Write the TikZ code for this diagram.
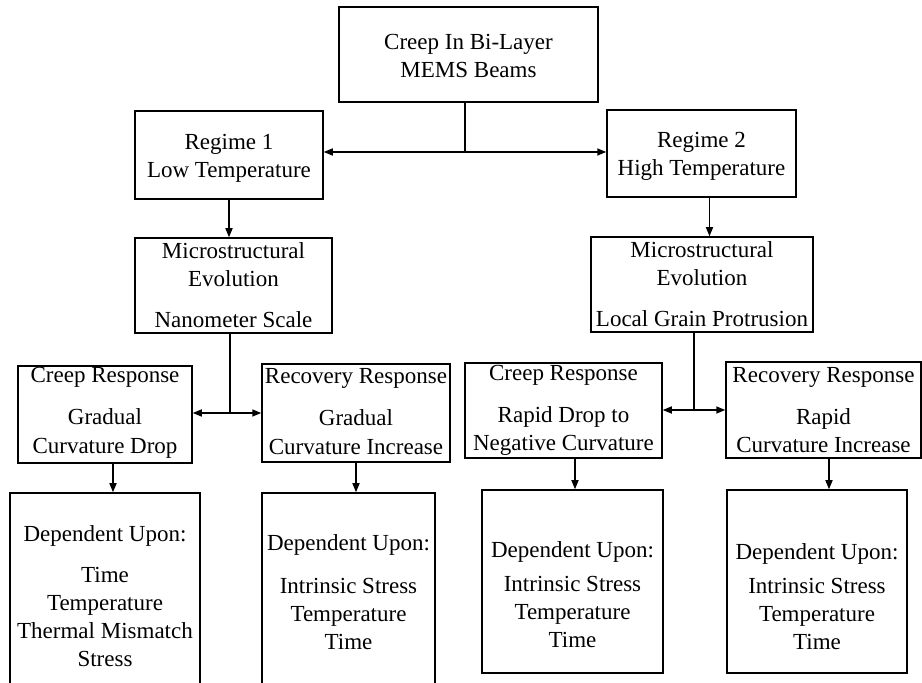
\documentclass[tikz,border=0pt]{standalone}
\usepackage{fontspec}
\setmainfont{Liberation Serif}
\usetikzlibrary{arrows.meta}

\begin{document}
\begin{tikzpicture}[x=0.5pt,y=0.5pt,yscale=-1,xscale=1,
    box/.style={draw, line width=0.75pt, inner sep=0pt},
    lbl/.style={align=center, inner sep=0pt, font=\fontsize{11.5}{14}\selectfont},
    >={Triangle[length=4.5pt,width=3.5pt]}, line width=0.75pt]
    \path[use as bounding box, clip] (0,0) rectangle (922,683); %diagram is 922 by 683

    %Shape: Rectangle
    \node[box, minimum width=129.5pt, minimum height=47.5pt] (top) at (468.5,54.5) {};
    %Shape: Rectangle
    \node[box, minimum width=94pt, minimum height=44pt] (reg1) at (229,155) {};
    %Shape: Rectangle
    \node[box, minimum width=94.5pt, minimum height=43.5pt] (reg2) at (701.5,153.5) {};
    %Shape: Rectangle
    \node[box, minimum width=98.5pt, minimum height=47.5pt] (mic1) at (233.5,285.5) {};
    %Shape: Rectangle
    \node[box, minimum width=111pt, minimum height=47.5pt] (mic2) at (702,284.5) {};
    %Shape: Rectangle
    \node[box, minimum width=87pt, minimum height=48.5pt] (cr1) at (105,414.5) {};
    %Shape: Rectangle
    \node[box, minimum width=94pt, minimum height=49pt] (rc1) at (356,413) {};
    %Shape: Rectangle
    \node[box, minimum width=98.5pt, minimum height=47.5pt] (cr2) at (563.5,410.5) {};
    %Shape: Rectangle
    \node[box, minimum width=97.5pt, minimum height=48pt] (rc2) at (823.5,410) {};
    %Shape: Rectangle
    \node[box, minimum width=95pt, minimum height=101pt] (dep1) at (105,594) {};
    %Shape: Rectangle
    \node[box, minimum width=86.5pt, minimum height=97.5pt] (dep2) at (348.5,590.5) {};
    %Shape: Rectangle
    \node[box, minimum width=90.5pt, minimum height=91.5pt] (dep3) at (572.5,581.5) {};
    %Shape: Rectangle
    \node[box, minimum width=90pt, minimum height=91.5pt] (dep4) at (817,581.5) {};

    %Straight Lines
    \coordinate (j0) at (465,152);
    \draw (top.south -| j0) -- (j0);
    \draw [<->] (reg1.east |- j0) -- (reg2.west |- j0);
    %Straight Lines
    \draw [->] (reg1.south) -- (reg1.south |- mic1.north);
    \draw [->] ([xshift=4pt]reg2.south) -- ([xshift=4pt]reg2.south |- mic2.north);
    %Straight Lines
    \coordinate (j1) at (230,413);
    \draw (mic1.south -| j1) -- (j1);
    \draw [<->] (cr1.east |- j1) -- (rc1.west |- j1);
    %Straight Lines
    \coordinate (j2) at (694,410);
    \draw (mic2.south -| j2) -- (j2);
    \draw [<->] (cr2.east |- j2) -- (rc2.west |- j2);
    %Straight Lines
    \draw [->] ([xshift=4pt]cr1.south) -- ([xshift=4pt]cr1.south |- dep1.north);
    \draw [->] (rc1.south) -- (rc1.south |- dep2.north);
    \draw [->] ([xshift=5.75pt]cr2.south) -- ([xshift=5.75pt]cr2.south |- dep3.north);
    \draw [->] ([xshift=2.75pt]rc2.south) -- ([xshift=2.75pt]rc2.south |- dep4.north);

    % Text Node
    \node[lbl] (t-top) at (468.5,56) {Creep In Bi-Layer\\MEMS Beams};
    % Text Node
    \node[lbl] (t-reg1) at (229,158) {Regime 1\\Low Temperature};
    % Text Node
    \node[lbl] (t-reg2) at (701.5,156) {Regime 2\\High Temperature};
    % Text Node
    \node[lbl] (t-mic1) at (233.5,285) {Microstructural\\Evolution\\[6.5pt]Nanometer Scale};
    % Text Node
    \node[lbl] (t-mic2) at (702,284) {Microstructural\\Evolution\\[6.5pt]Local Grain Protrusion};
    % Text Node
    \node[lbl] (t-cr1) at (105,413) {Creep Response\\[7pt]Gradual\\[0.5pt]Curvature Drop};
    % Text Node
    \node[lbl] (t-rc1) at (356,412) {Recovery Response\\[7pt]Gradual\\[0.5pt]Curvature Increase};
    % Text Node
    \node[lbl] (t-cr2) at (563.5,410) {Creep Response\\[7pt]Rapid Drop to\\Negative Curvature};
    % Text Node
    \node[lbl] (t-rc2) at (823.5,410) {Recovery Response\\[7pt]Rapid\\Curvature Increase};
    % Text Node
    \node[lbl] (t-dep1) at (105,596) {Dependent Upon:\\[6.5pt]Time\\Temperature\\Thermal Mismatch\\Stress};
    % Text Node
    \node[lbl] (t-dep2) at (348.5,592) {Dependent Upon:\\[7.5pt]Intrinsic Stress\\Temperature\\Time};
    % Text Node
    \node[lbl] (t-dep3) at (572.5,595) {Dependent Upon:\\[3pt]Intrinsic Stress\\Temperature\\Time};
    % Text Node
    \node[lbl] (t-dep4) at (817,597) {Dependent Upon:\\[3pt]Intrinsic Stress\\Temperature\\Time};

\end{tikzpicture}
\end{document}
